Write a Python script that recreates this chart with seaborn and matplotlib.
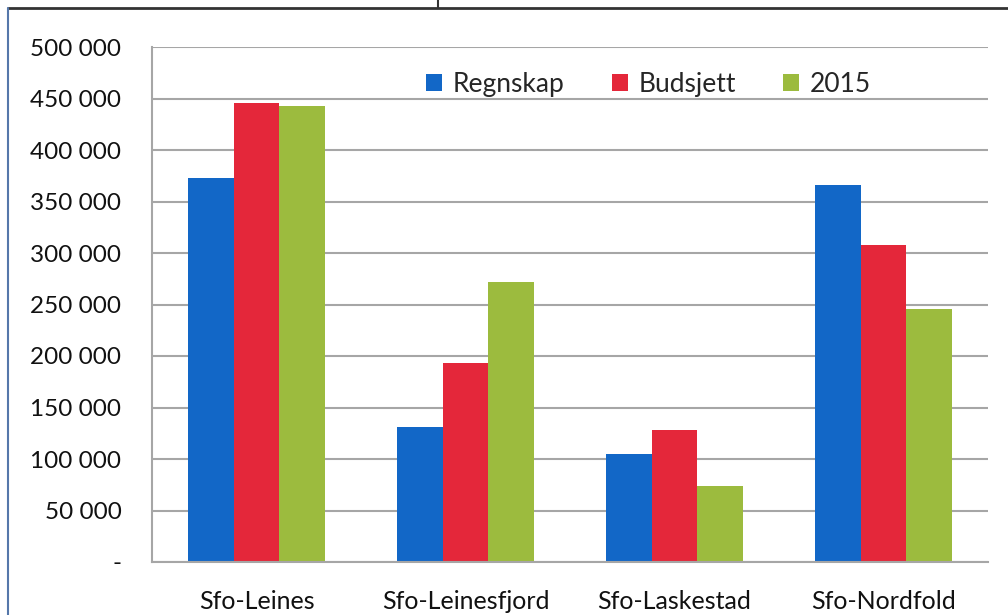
import matplotlib
matplotlib.use("Agg")
import matplotlib.pyplot as plt
import seaborn as sns
import pandas as pd
from matplotlib.lines import Line2D

categories = ["Sfo-Leines", "Sfo-Leinesfjord", "Sfo-Laskestad", "Sfo-Nordfold"]
series_names = ["Regnskap", "Budsjett", "2015"]
regnskap = [373000, 131000, 105000, 366000]
budsjett = [446000, 193000, 128000, 308000]
y2015 = [443000, 272000, 74000, 246000]
colors = ["#1267C7", "#E4273A", "#9CBB3E"]
yticks = [0, 50000, 100000, 150000, 200000, 250000, 300000, 350000, 400000, 450000, 500000]

rows = []
for name, vals in zip(series_names, [regnskap, budsjett, y2015]):
    for c, v in zip(categories, vals):
        rows.append({"cat": c, "series": name, "value": v})
df = pd.DataFrame(rows)

sns.set_style("white")
plt.rcParams["font.family"] = ["Lato", "DejaVu Sans"]

fig = plt.figure(figsize=(10.08, 6.15), dpi=100)
ax = fig.add_axes([152/1008, (615-562)/615, 836/1008, 515/615])

sns.barplot(data=df, x="cat", y="value", hue="series", order=categories,
            hue_order=series_names, palette=colors, width=0.66, gap=0,
            saturation=1, ax=ax, errorbar=None, edgecolor="none", linewidth=0)

ax.set_xlim(-0.5, 3.5)
ax.set_ylim(0, 500000)
ax.set_yticks(yticks)
ax.set_yticklabels(["-" if t == 0 else f"{t:,}".replace(",", " ") for t in yticks])
ax.yaxis.grid(True, color="#A6A6A6", linewidth=1.5)
ax.set_axisbelow(True)
ax.set_xlabel("")
ax.set_ylabel("")

for s in ["top", "right"]:
    ax.spines[s].set_visible(False)
for s in ["left", "bottom"]:
    ax.spines[s].set_visible(True)
    ax.spines[s].set_color("#A6A6A6")
    ax.spines[s].set_linewidth(1.5)

ax.set_xticks([-0.5, 0.5, 1.5, 2.5, 3.5], minor=True)
ax.set_xticks(range(4))
ax.set_xticklabels(categories, color="#111111")
ax.tick_params(axis="x", which="major", length=0, labelsize=18, pad=20)
ax.tick_params(axis="x", which="minor", length=9, color="#A6A6A6", width=1.5)
ax.tick_params(axis="y", length=7, color="#A6A6A6", width=1.5, labelsize=17.5, pad=15,
               labelcolor="#111111")

leg = ax.legend(loc="center", bbox_to_anchor=(0.594, 0.928), ncol=3, frameon=False,
                fontsize=19, handlelength=0.6, handleheight=0.6, handletextpad=0.4,
                columnspacing=1.8)

# scanned-page frame lines
fig.add_artist(Line2D([0.008, 1.0], [1 - 8/615, 1 - 8/615], color="#333333", linewidth=2))
fig.add_artist(Line2D([438/1008, 438/1008], [1.0, 1 - 8/615], color="#333333", linewidth=1.5))
fig.add_artist(Line2D([8/1008, 8/1008], [0, 1 - 8/615], color="#5577aa", linewidth=1.5))

fig.savefig("out.png", dpi=100)
